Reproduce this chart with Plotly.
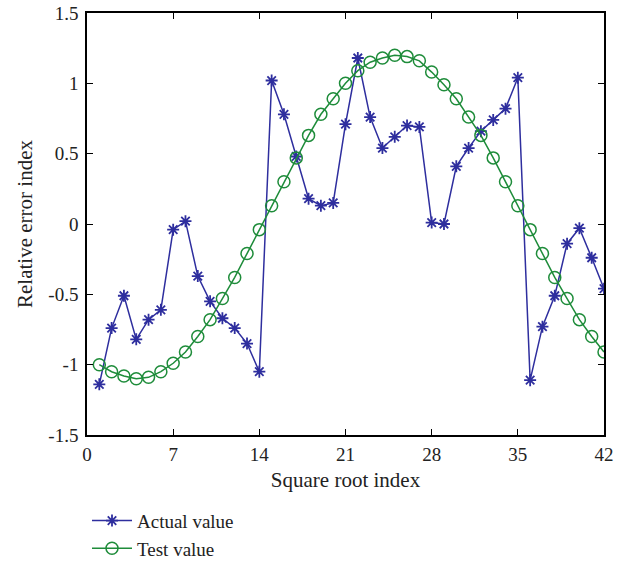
import plotly.graph_objects as go

x_index = list(range(1, 43))
actual_value = [-1.14, -0.74, -0.51, -0.82, -0.68, -0.61, -0.04, 0.02, -0.37, -0.55,
                -0.67, -0.74, -0.85, -1.05, 1.02, 0.78, 0.48, 0.18, 0.13, 0.15,
                0.71, 1.18, 0.76, 0.54, 0.62, 0.70, 0.69, 0.01, 0.00, 0.41,
                0.54, 0.66, 0.74, 0.82, 1.04, -1.11, -0.73, -0.51, -0.14, -0.03,
                -0.24, -0.46]
test_value = [-1.00, -1.05, -1.08, -1.10, -1.09, -1.05, -0.99, -0.91, -0.80, -0.68,
              -0.53, -0.38, -0.21, -0.04, 0.13, 0.30, 0.47, 0.63, 0.78, 0.89,
              1.00, 1.09, 1.15, 1.18, 1.20, 1.19, 1.16, 1.08, 0.99, 0.89,
              0.76, 0.63, 0.47, 0.30, 0.13, -0.04, -0.21, -0.38, -0.53, -0.68,
              -0.80, -0.91]
x_ticks = [0, 7, 14, 21, 28, 35, 42]
y_ticks = [-1.5, -1, -0.5, 0, 0.5, 1, 1.5]
y_tick_text = ["-1.5", "-1", "-0.5", "0", "0.5", "1", "1.5"]

blue = "#2E2E9E"
green = "#1E8C3A"
font_family = "Liberation Serif"

fig = go.Figure()
fig.add_trace(go.Scatter(
    x=x_index, y=actual_value, name="Actual value", mode="lines+markers",
    line=dict(color=blue, width=1.5),
    marker=dict(symbol="asterisk-open", size=10, color=blue, line=dict(width=1.8, color=blue)),
))
fig.add_trace(go.Scatter(
    x=x_index, y=test_value, name="Test value", mode="lines+markers",
    line=dict(color=green, width=1.5),
    marker=dict(symbol="circle-open", size=12, color=green, line=dict(width=1.5, color=green)),
))

axis_common = dict(
    showline=True, linecolor="black", linewidth=1.5, mirror="ticks",
    ticks="inside", ticklen=6, tickwidth=1.2, tickcolor="black",
    showgrid=False, zeroline=False,
    tickfont=dict(family=font_family, size=19, color="#222"),
)
fig.update_xaxes(range=[0, 42], tickvals=x_ticks, ticklabelstandoff=1,
                 title=dict(text="Square root index", font=dict(family=font_family, size=21, color="#222"), standoff=9),
                 **axis_common)
fig.update_yaxes(range=[-1.5, 1.5], tickvals=y_ticks, ticktext=y_tick_text, ticklabelstandoff=3,
                 title=dict(text="Relative error index", font=dict(family=font_family, size=21, color="#222"), standoff=10),
                 **axis_common)

fig.update_layout(
    width=624, height=563,
    margin=dict(l=87, r=20, t=13, b=128, autoexpand=False),
    paper_bgcolor="white", plot_bgcolor="white",
    font=dict(family=font_family, color="#222"),
    legend=dict(x=0.0, y=-0.158, xanchor="left", yanchor="top",
                font=dict(family=font_family, size=19, color="#222"),
                bgcolor="rgba(0,0,0,0)", tracegroupgap=0, itemwidth=40),
)

fig.write_html("out.html")
